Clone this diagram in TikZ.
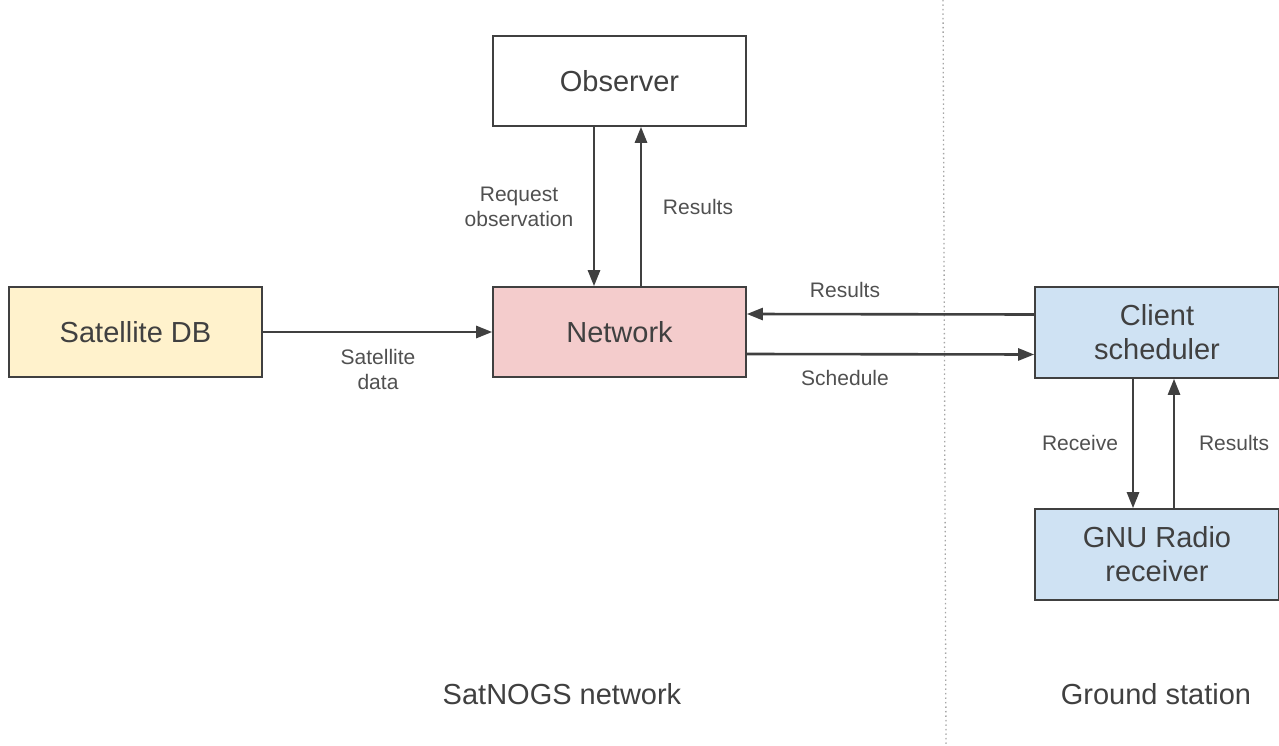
\documentclass[tikz,border=0pt]{standalone}
\usepackage{fontspec}
\setmainfont{Liberation Sans}
\usetikzlibrary{arrows.meta}
\definecolor{txt}{HTML}{404040}
\definecolor{lbl}{HTML}{505050}
\definecolor{edge}{HTML}{404040}
\definecolor{yel}{HTML}{FFF2CC}
\definecolor{pnk}{HTML}{F4CCCC}
\definecolor{blu}{HTML}{CFE2F3}
\tikzset{
  box/.style={draw=edge, line width=1.6pt, minimum width=253pt, minimum height=90pt,
    inner sep=0pt, align=center, text=txt, font=\fontsize{29}{34}\selectfont},
  conn/.style={draw=edge, line width=2.6pt, -{Triangle[width=12pt,length=16pt]}},
  lab/.style={text=lbl, align=center, font=\fontsize{21}{25}\selectfont, inner sep=0pt},
  big/.style={text=txt, font=\fontsize{29}{34}\selectfont, inner sep=0pt},
  divider/.style={draw=gray!70, line width=1.3pt, dash pattern=on 1.3pt off 3.2pt}
}
\begin{document}
\begin{tikzpicture}[x=1pt,y=-1pt]
\useasboundingbox (0,0) rectangle (1279,746);
\draw[divider] (943,0) -- (946,746);
\node[box, fill=white] (obs) at (619.5,81) {Observer};
\node[box, fill=yel] (sat) at (135.5,332) {Satellite DB};
\node[box, fill=pnk] (net) at (619.5,332) {Network};
\node[box, fill=blu, minimum width=244pt, minimum height=91pt] (cli) at (1157,332.5) {Client\\scheduler};
\node[box, fill=blu, minimum width=244pt, minimum height=91pt] (gnu) at (1157,554.5) {GNU Radio\\receiver};
% connectors
\draw[conn] ([xshift=-25.5pt]obs.south) -- ([xshift=-25.5pt]net.north);
\draw[conn] ([xshift=21.5pt]net.north) -- ([xshift=21.5pt]obs.south);
\draw[conn] (sat.east) -- (net.west);
\draw[conn] ([yshift=18pt]cli.west) -- ([yshift=18pt]net.east);
\draw[conn] ([yshift=-22pt]net.east) -- ([yshift=-22pt]cli.west);
\draw[conn] ([xshift=-24pt]cli.south) -- ([xshift=-24pt]gnu.north);
\draw[conn] ([xshift=17pt]gnu.north) -- ([xshift=17pt]cli.south);
% labels
\node[lab] (lreq) at (519,207) {Request\\observation};
\node[lab] (lres1) at (698,207) {Results};
\node[lab] (lsat) at (378,369) {Satellite\\data};
\node[lab] (lres2) at (845,290) {Results};
\node[lab] (lsch) at (845,378) {Schedule};
\node[lab] (lrec) at (1080,443) {Receive};
\node[lab] (lres3) at (1234,443) {Results};
\node[big] (lnet) at (562,694) {SatNOGS network};
\node[big] (lgs) at (1156,694) {Ground station};
\end{tikzpicture}
\end{document}
